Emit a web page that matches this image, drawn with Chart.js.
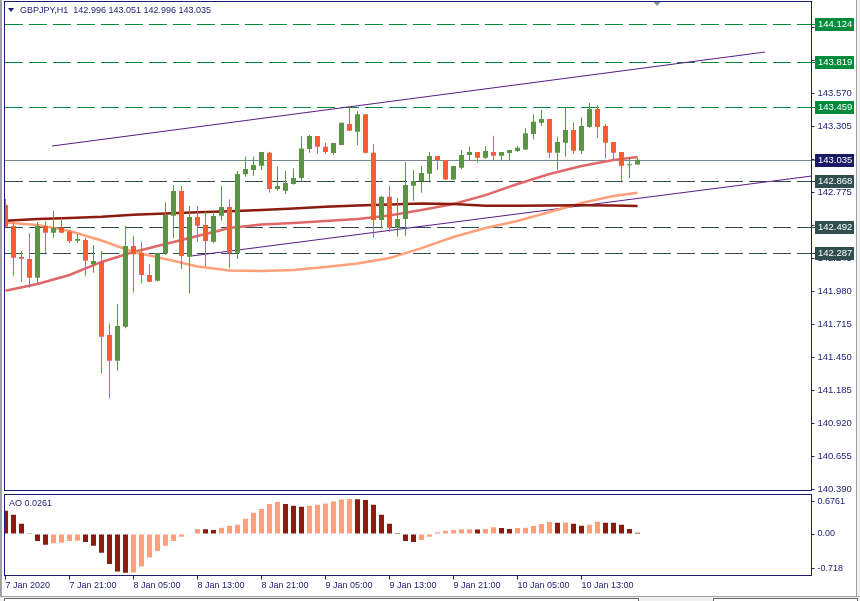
<!DOCTYPE html>
<html lang="en">
<head>
  <meta charset="UTF-8">
  <title>GBPJPY,H1</title>
  <style>
    body { margin: 0; background: #fff; }
    .win { position: relative; width: 860px; height: 601px; overflow: hidden; background: #fff;
           font-family: "Liberation Sans", Arial, sans-serif; color: #1c1c74; }
    canvas { position: absolute; left: 0; }
    #mainChart { top: 0; }
    #aoChart { top: 492px; }
    .txt { position: absolute; font-size: 9px; line-height: 11px; white-space: pre; }
    .tri { position: absolute; left: 8px; top: 8px; width: 0; height: 0;
           border-left: 3.5px solid transparent; border-right: 3.5px solid transparent; border-top: 4px solid #1c1c74; }
    .edge-l { position: absolute; left: 0; top: 0; width: 2px; height: 596px; background: #a0a0a0; }
    .edge-r { position: absolute; left: 856px; top: 0; width: 4px; height: 596px; background: #f0f0f0; border-left: 1px solid #a0a0a0; }
    .bottom { position: absolute; left: 0; top: 596px; width: 860px; height: 5px; background: #f0f0f0; border-top: 1px solid #a0a0a0; }
    .tab { position: absolute; top: 598px; height: 4px; background: #fff; border: 1px solid #646464; }
  </style>
</head>
<body>
  <div class="win">
    <canvas id="mainChart" width="860" height="497"></canvas>
    <canvas id="aoChart" width="860" height="109"></canvas>
    <div class="tri"></div>
    <div class="txt" id="header" style="left:20px; top:4.5px;"></div>
    <div class="txt" id="aoLabel" style="left:9px; top:498px;"></div>
    <div class="edge-l"></div>
    <div class="edge-r"></div>
    <div class="bottom"></div>
    <div class="tab" style="left:4px; width:633px;"></div>
    <div class="tab" style="left:713px; width:143px;"></div>
  </div>

  <script src="https://cdn.jsdelivr.net/npm/chart.js"></script>
  <script>
    // GBPJPY H1, 80 bars from 7 Jan 2020 13:00
    const symbol = 'GBPJPY,H1';

    const open = [
      142.671, 142.503, 142.253, 142.237, 142.087, 142.503, 142.449, 142.489, 142.457, 142.384,
      142.390, 142.195, 142.216, 141.627, 141.421, 141.694, 142.342, 142.288, 142.109, 142.063,
      142.283, 142.585, 142.784, 142.256, 142.575, 142.510, 142.376, 142.585, 142.655, 142.288,
      142.918, 142.952, 142.987, 143.091, 142.799, 142.786, 142.840, 142.888, 143.121, 143.225,
      143.139, 143.089, 143.153, 143.322, 143.260, 143.400, 143.091, 142.551, 142.738, 142.489,
      142.559, 142.826, 142.864, 142.922, 143.065, 143.030, 142.877, 142.971, 143.073, 143.097,
      143.051, 143.097, 143.067, 143.089, 143.105, 143.118, 143.241, 143.332, 143.362, 143.091,
      143.172, 143.273, 143.107, 143.298, 143.442, 143.306, 143.177, 143.097, 142.990, 142.996
    ];
    const high = [
      142.719, 142.529, 142.302, 142.444, 142.535, 142.543, 142.623, 142.569, 142.470, 142.438,
      142.408, 142.350, 142.302, 141.721, 141.876, 142.503, 142.422, 142.376, 142.197, 142.283,
      142.693, 142.832, 142.824, 142.663, 142.665, 142.617, 142.617, 142.824, 142.717, 142.944,
      143.059, 143.059, 143.097, 143.099, 142.979, 142.944, 142.966, 143.225, 143.233, 143.225,
      143.172, 143.169, 143.332, 143.456, 143.426, 143.400, 143.161, 142.743, 142.824, 142.730,
      143.014, 142.952, 142.984, 143.097, 143.065, 143.030, 142.984, 143.113, 143.139, 143.097,
      143.145, 143.228, 143.097, 143.113, 143.145, 143.287, 143.400, 143.434, 143.362, 143.220,
      143.456, 143.335, 143.376, 143.490, 143.474, 143.322, 143.177, 143.097, 143.057, 143.051
    ];
    const low = [
      142.494, 142.103, 142.055, 142.007, 142.034, 142.283, 142.409, 142.446, 142.368, 142.366,
      142.104, 142.127, 141.319, 141.117, 141.340, 141.681, 141.967, 142.042, 142.053, 142.055,
      142.269, 142.404, 142.157, 141.962, 142.376, 142.177, 142.364, 142.545, 142.168, 142.237,
      142.898, 142.906, 142.952, 142.770, 142.786, 142.759, 142.837, 142.866, 143.091, 143.083,
      143.083, 143.075, 143.153, 143.265, 143.153, 143.086, 142.409, 142.484, 142.452, 142.417,
      142.425, 142.706, 142.770, 142.864, 142.952, 142.872, 142.872, 142.960, 143.033, 143.011,
      143.041, 143.033, 143.033, 143.033, 143.097, 143.113, 143.199, 143.306, 143.046, 142.955,
      143.059, 143.081, 143.081, 143.292, 143.212, 143.046, 143.038, 142.864, 142.886, 142.996
    ];
    const close = [
      142.497, 142.248, 142.240, 142.087, 142.503, 142.449, 142.489, 142.449, 142.382, 142.398,
      142.224, 142.221, 141.613, 141.421, 141.699, 142.342, 142.275, 142.109, 142.055, 142.283,
      142.591, 142.784, 142.262, 142.575, 142.505, 142.382, 142.583, 142.655, 142.288, 142.920,
      142.960, 142.992, 143.097, 142.799, 142.824, 142.848, 142.888, 143.126, 143.225, 143.139,
      143.097, 143.169, 143.332, 143.268, 143.400, 143.091, 142.551, 142.738, 142.489, 142.559,
      142.832, 142.864, 142.928, 143.065, 143.030, 142.877, 142.984, 143.073, 143.097, 143.051,
      143.105, 143.067, 143.097, 143.113, 143.131, 143.247, 143.340, 143.362, 143.091, 143.177,
      143.273, 143.107, 143.306, 143.442, 143.298, 143.172, 143.091, 142.987, 142.996, 143.035
    ];

    // moving averages at these bars
    const maBars = [0, 4, 8, 12, 16, 20, 24, 28, 32, 36, 40, 44, 48, 52, 56, 60, 64, 68, 72, 76, 79];
    const maFast = [141.983, 142.037, 142.109, 142.214, 142.294, 142.358, 142.422, 142.486, 142.515, 142.527,
                    142.543, 142.559, 142.587, 142.631, 142.679, 142.751, 142.840, 142.920, 142.984, 143.033, 143.057];
    const maMid  = [142.531, 142.511, 142.462, 142.386, 142.294, 142.237, 142.177, 142.145, 142.141, 142.149,
                    142.173, 142.201, 142.245, 142.325, 142.414, 142.486, 142.543, 142.615, 142.687, 142.743, 142.770];
    const maSlow = [142.545, 142.559, 142.567, 142.577, 142.593, 142.604, 142.613, 142.621, 142.631, 142.644,
                    142.658, 142.668, 142.676, 142.684, 142.680, 142.666, 142.665, 142.667, 142.669, 142.667, 142.663];

    // trend lines: [bar, price] anchors
    const upperTrend = [[5.81, 143.145], [94.94, 143.900]];
    const lowerTrend = [[23.27, 142.262], [100.75, 142.904]];

    // horizontal levels
    const resistLevels = [144.124, 143.819, 143.459];
    const supportLevels = [142.868, 142.492, 142.287];

    // Awesome Oscillator
    const ao = [
      0.479, 0.397, 0.212, 0.014, -0.144, -0.219, -0.192, -0.178, -0.144, -0.140,
      -0.164, -0.240, -0.384, -0.616, -0.774, -0.795, -0.790, -0.671, -0.486, -0.349,
      -0.240, -0.144, -0.055, 0.012, 0.103, 0.098, 0.082, 0.130, 0.171, 0.192,
      0.315, 0.438, 0.514, 0.616, 0.658, 0.616, 0.582, 0.562, 0.582, 0.603,
      0.630, 0.671, 0.712, 0.719, 0.716, 0.699, 0.603, 0.397, 0.212, 0.020,
      -0.144, -0.164, -0.123, -0.055, 0.034, 0.068, 0.082, 0.096, 0.098, 0.094,
      0.103, 0.137, 0.123, 0.103, 0.125, 0.127, 0.164, 0.205, 0.247, 0.233,
      0.236, 0.212, 0.171, 0.192, 0.253, 0.233, 0.230, 0.192, 0.103, 0.0261
    ];

    const priceTicks = [140.390, 140.655, 140.920, 141.185, 141.450, 141.715, 141.980, 142.245,
                        142.510, 142.775, 143.040, 143.305, 143.570, 143.835, 144.100];
    const aoTicks = [-0.718, 0, 0.6761];
    const aoTickText = ['-0.718', '0.00', '0.6761'];
    const timeTicks = [0, 8, 16, 24, 32, 40, 48, 56, 64, 72];
    const timeLabels = ['7 Jan 2020', '7 Jan 21:00', '8 Jan 05:00', '8 Jan 13:00', '8 Jan 21:00',
                        '9 Jan 05:00', '9 Jan 13:00', '9 Jan 21:00', '10 Jan 05:00', '10 Jan 13:00'];

    // colours
    const NAVY = '#1c1c74';
    const UP = '#5a9444';
    const DOWN = '#ff5a36';
    const GREEN_LVL = '#008c3c';
    const SLATE_LVL = '#2f4f4f';
    const PRICE_LINE = '#778899';
    const AO_UP = '#ffa07a';
    const AO_DOWN = '#8b1a0f';

    Chart.defaults.font.family = '"Liberation Sans", Arial, sans-serif';

    const last = open.length - 1;
    document.getElementById('header').textContent =
      symbol + '  ' + [open[last], high[last], low[last], close[last]].map(v => v.toFixed(3)).join(' ');
    document.getElementById('aoLabel').textContent = 'AO ' + ao[last].toFixed(4);

    const bars = open.map((_, i) => i);
    const candleColor = bars.map(i => close[i] >= open[i] ? UP : DOWN);
    const aoColor = bars.map(i => (i > 0 && ao[i] > ao[i - 1]) ? AO_UP : AO_DOWN);
    const maPts = vals => maBars.map((b, j) => ({ x: b, y: vals[j] }));
    const trendPts = t => t.map(p => ({ x: p[0], y: p[1] }));

    const X_MIN = -0.125, X_MAX = 100.75;

    const framePlugin = {
      id: 'frame',
      afterDraw(chart) {
        const { ctx, chartArea: a } = chart;
        ctx.save();
        ctx.strokeStyle = NAVY;
        ctx.lineWidth = 1;
        ctx.strokeRect(a.left, a.top, a.right - a.left, a.bottom - a.top);
        ctx.restore();
      }
    };

    // level lines under the candles, price boxes on top of the axis
    const levelPlugin = {
      id: 'levels',
      beforeDatasetsDraw(chart) {
        const { ctx, chartArea: a, scales: { y } } = chart;
        ctx.save();
        ctx.lineWidth = 1;
        const hline = (v, color, dash) => {
          const py = Math.round(y.getPixelForValue(v)) + 0.5;
          ctx.strokeStyle = color;
          ctx.setLineDash(dash);
          ctx.beginPath();
          ctx.moveTo(a.left + 0.5, py);
          ctx.lineTo(a.right + 3.5, py);
          ctx.stroke();
        };
        resistLevels.forEach(v => hline(v, GREEN_LVL, [18, 6]));
        supportLevels.forEach(v => hline(v, SLATE_LVL, [18, 6]));
        hline(close[last], PRICE_LINE, []);
        ctx.restore();
      },
      afterDraw(chart) {
        const { ctx, chartArea: a, scales: { y } } = chart;
        ctx.save();
        ctx.font = '9.5px "Liberation Sans", Arial, sans-serif';
        ctx.textBaseline = 'middle';
        const box = (v, color) => {
          const r = Math.round(y.getPixelForValue(v));
          ctx.fillStyle = color;
          ctx.fillRect(a.right + 3.5, r - 6, 39, 13);
          ctx.fillStyle = '#ffffff';
          ctx.fillText(v.toFixed(3), a.right + 6.5, r + 0.5);
        };
        resistLevels.forEach(v => box(v, GREEN_LVL));
        supportLevels.forEach(v => box(v, SLATE_LVL));
        box(close[last], '#1a1a64');

        // chart shift marker
        ctx.fillStyle = '#8394a5';
        ctx.beginPath();
        ctx.moveTo(653, 1.5);
        ctx.lineTo(661, 1.5);
        ctx.lineTo(657, 6);
        ctx.closePath();
        ctx.fill();
        ctx.restore();
      }
    };

    const mainChart = new Chart(document.getElementById('mainChart'), {
      type: 'bar',
      data: {
        datasets: [
          { label: 'body', data: bars.map(i => ({ x: i, y: [open[i], close[i]] })),
            backgroundColor: candleColor, barThickness: 5, minBarLength: 1,
            grouped: false, inflateAmount: 0, borderWidth: 0, order: 0 },
          { label: 'wick', data: bars.map(i => ({ x: i, y: [low[i], high[i]] })),
            backgroundColor: candleColor, barThickness: 1,
            grouped: false, inflateAmount: 0, borderWidth: 0, order: 1 },
          { type: 'line', label: 'MA slow', data: maPts(maSlow), borderColor: AO_DOWN,
            borderWidth: 2.5, pointRadius: 0, order: 2 },
          { type: 'line', label: 'MA mid', data: maPts(maMid), borderColor: '#ffa07a',
            borderWidth: 2.5, pointRadius: 0, order: 3 },
          { type: 'line', label: 'MA fast', data: maPts(maFast), borderColor: '#e06868',
            borderWidth: 2.5, pointRadius: 0, order: 4 },
          { type: 'line', label: 'upper trend', data: trendPts(upperTrend), borderColor: '#5a1a8a',
            borderWidth: 1, pointRadius: 0, order: 5 },
          { type: 'line', label: 'lower trend', data: trendPts(lowerTrend), borderColor: '#5a1a8a',
            borderWidth: 1, pointRadius: 0, order: 5 }
        ]
      },
      options: {
        animation: false,
        responsive: false,
        layout: { padding: { left: 4.5, top: 1.5, right: 0, bottom: 6.5 } },
        plugins: { legend: { display: false }, tooltip: { enabled: false } },
        scales: {
          x: { type: 'linear', min: X_MIN, max: X_MAX, display: false, offset: false, bounds: 'data' },
          y: {
            position: 'right', min: 140.378, max: 144.306, bounds: 'data', beginAtZero: false,
            afterBuildTicks: s => { s.ticks = priceTicks.map(v => ({ value: v })); },
            afterFit: s => { s.width = 48.5; s.paddingTop = 0; s.paddingBottom = 0; },
            ticks: { autoSkip: false, padding: 3, color: NAVY, font: { size: 9.5 },
                     callback: v => Number(v).toFixed(3) },
            grid: { drawOnChartArea: false, color: NAVY, tickLength: 3 },
            border: { color: NAVY }
          }
        }
      },
      plugins: [levelPlugin, framePlugin]
    });

    const aoChart = new Chart(document.getElementById('aoChart'), {
      type: 'bar',
      data: {
        datasets: [{
          label: 'AO', data: bars.map(i => ({ x: i, y: ao[i] })),
          backgroundColor: aoColor, barThickness: 5, grouped: false, inflateAmount: 0, borderWidth: 0
        }]
      },
      options: {
        animation: false,
        responsive: false,
        layout: { padding: { left: 4.5, top: 2.5, right: 0, bottom: 0 } },
        plugins: { legend: { display: false }, tooltip: { enabled: false } },
        scales: {
          x: {
            type: 'linear', min: X_MIN, max: X_MAX, offset: false, bounds: 'data',
            afterBuildTicks: s => { s.ticks = timeTicks.map(v => ({ value: v })); },
            afterFit: s => { s.height = 25.5; s.paddingLeft = 0; s.paddingRight = 0; },
            ticks: { autoSkip: false, maxRotation: 0, minRotation: 0, align: 'start', padding: 1,
                     color: NAVY, font: { size: 9 }, callback: (v, i) => timeLabels[i] },
            grid: { drawOnChartArea: false, color: NAVY, tickLength: 4, offset: false },
            border: { color: NAVY }
          },
          y: {
            position: 'right', min: -0.854, max: 0.813, bounds: 'data', beginAtZero: false,
            afterBuildTicks: s => { s.ticks = aoTicks.map(v => ({ value: v })); },
            afterFit: s => { s.width = 48.5; s.paddingTop = 0; s.paddingBottom = 0; },
            ticks: { autoSkip: false, padding: 3, color: NAVY, font: { size: 9 },
                     callback: (v, i) => aoTickText[i] },
            grid: { drawOnChartArea: false, color: NAVY, tickLength: 3 },
            border: { color: NAVY }
          }
        }
      },
      plugins: [framePlugin]
    });
  </script>
</body>
</html>
